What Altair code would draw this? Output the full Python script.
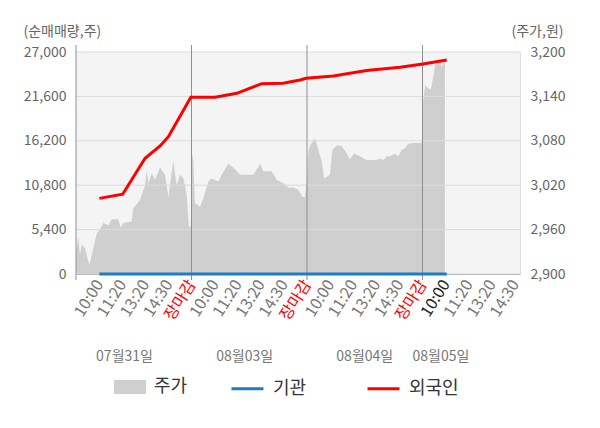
import json
import altair as alt
import pandas as pd

# ---------------- data ----------------
tick_labels = ["10:00", "11:20", "13:20", "14:30", "장마감"]
day_labels = ["07월31일", "08월03일", "08월04일", "08월05일"]
day_label_pos = [2.1, 7.3, 12.5, 15.8]
day_bounds = [0, 5, 10, 15]

left_ticks = [0, 5400, 10800, 16200, 21600, 27000]
right_ticks = [2900, 2960, 3020, 3080, 3140, 3200]

# stock price (주가), x in time-slot units (5 slots per trading day)
price_t = [0.00, 0.10, 0.17, 0.25, 0.39, 0.58, 0.75, 0.90, 1.04, 1.18,
           1.40, 1.55, 1.83, 1.94, 2.05, 2.41, 2.48, 2.77, 2.99, 3.06,
           3.13, 3.28, 3.42, 3.64, 3.85, 4.00, 4.21, 4.36, 4.50, 4.65,
           4.79, 4.89, 4.97,
           5.02, 5.08, 5.15, 5.37, 5.51, 5.73, 5.87, 6.16, 6.31, 6.59,
           6.81, 7.10, 7.68, 7.97, 8.11, 8.47, 8.69, 8.97, 9.19, 9.41,
           9.62, 9.81, 9.91, 9.98,
           10.03, 10.06, 10.13, 10.35, 10.49, 10.64, 10.74, 10.99, 11.10, 11.31,
           11.50, 11.72, 11.86, 12.03, 12.29, 12.58, 13.02, 13.16, 13.30, 13.45,
           13.59, 13.81, 13.95, 14.10, 14.24, 14.39, 14.60, 14.97,
           15.03, 15.11, 15.25, 15.36, 15.47, 15.54, 15.76, 15.83, 15.94, 15.97]
price_v = [2930, 2950, 2926, 2940, 2935, 2912, 2935, 2955, 2960, 2969,
           2966, 2974, 2974, 2963, 2969, 2971, 2989, 3000, 3020, 3040,
           3023, 3036, 3027, 3044, 3034, 3004, 3053, 3020, 3034, 3029,
           3007, 2964, 2964,
           3063, 3052, 2996, 2991, 3002, 3025, 3029, 3025, 3034, 3049,
           3044, 3034, 3034, 3049, 3039, 3039, 3027, 3023, 3017, 3017,
           3014, 3004, 3004, 3025,
           3050, 3065, 3074, 3083, 3068, 3052, 3029, 3034, 3068, 3074,
           3073, 3063, 3055, 3063, 3059, 3054, 3054, 3056, 3054, 3059,
           3059, 3063, 3059, 3068, 3070, 3076, 3077, 3077,
           3133, 3155, 3151, 3149, 3167, 3182, 3191, 3180, 3189, 3189]

# 외국인 cumulative net buying
foreign_t = [1.01, 2.02, 2.99, 3.64, 4.00, 4.97, 6.02, 6.96, 8.04, 8.97,
             9.70, 9.96, 11.14, 12.58, 14.03, 15.01, 16.05]
foreign_v = [9200, 9700, 14070, 15570, 16700, 21490, 21490, 21980, 23150, 23190,
             23600, 23800, 24080, 24740, 25150, 25540, 26030]

# 기관 cumulative net buying
inst_t = [1.01, 16.05]
inst_v = [0, 0]

# ---------------- tables ----------------
price_df = pd.DataFrame({"t": price_t, "v": price_v, "s": "주가"})
line_df = pd.concat([
    pd.DataFrame({"t": inst_t, "v": inst_v, "series": "기관"}),
    pd.DataFrame({"t": foreign_t, "v": foreign_v, "series": "외국인"}),
])
grid_df = pd.DataFrame({"v": left_ticks})
sep_df = pd.DataFrame({"t": day_bounds})
date_df = pd.DataFrame({"t": day_label_pos, "label": day_labels})

all_tick_labels = (tick_labels * 4)[:-1]
tick_values = list(range(1, len(all_tick_labels) + 1))
label_expr = json.dumps(all_tick_labels, ensure_ascii=False) + "[round(datum.value) - 1]"

FONT = "Noto Sans CJK KR"
xscale = alt.Scale(domain=[0, 19.22], nice=False, zero=False)
left_scale = alt.Scale(domain=[0, 27000], nice=False, zero=True)
right_scale = alt.Scale(domain=[2900, 3200], nice=False, zero=False)


def x_axis():
    return alt.Axis(
        values=tick_values, labelExpr=label_expr, labelAngle=-58,
        labelAlign="right", labelBaseline="middle", labelFontSize=16,
        labelColor={"condition": [
            {"test": "datum.value % 5 == 0", "value": "#ff0000"},
            {"test": "datum.value == 16", "value": "#222222"}],
            "value": "#777777"},
        labelPadding=7, labelOverlap=False,
        ticks=False, grid=False, domain=True, domainColor="#999999", title=None,
    )


def X():
    return alt.X("t:Q", scale=xscale, axis=x_axis())


left_axis = alt.Axis(
    orient="left", values=left_ticks, format=",d", title="(순매매량,주)",
    titleAngle=0, titleAlign="left", titleBaseline="middle", titleX=-53, titleY=-21,
    titleFontSize=14, titleFontWeight="normal", titleColor="#666666",
    labelFontSize=14, labelColor="#666666", labelPadding=10,
    ticks=False, domain=False, grid=False,
)
right_axis = alt.Axis(
    orient="right", values=right_ticks, format=",d", title="(주가,원)",
    titleAngle=0, titleAlign="right", titleBaseline="middle", titleX=43, titleY=-21,
    titleFontSize=14, titleFontWeight="normal", titleColor="#666666",
    labelFontSize=14, labelColor="#666666", labelPadding=10,
    ticks=False, domain=True, domainColor="#dddddd", grid=False,
)

area = alt.Chart(price_df).mark_area(interpolate="linear").encode(
    x=X(),
    y=alt.Y("v:Q", scale=right_scale, axis=right_axis),
    y2=alt.datum(2900),
    fill=alt.Fill("s:N", scale=alt.Scale(domain=["주가"], range=["#cfcfcf"]),
                  legend=alt.Legend(orient="none", legendX=38, legendY=319, title=None,
                                    symbolType="M-1,-0.44H1V0.44H-1Z", symbolSize=1024,
                                    symbolStrokeWidth=0, labelFontSize=18,
                                    labelColor="#333333", labelOffset=8, padding=0)),
)

grid = alt.Chart(grid_df).mark_rule(color="#dcdcdc", strokeWidth=1).encode(
    y=alt.Y("v:Q", scale=left_scale, axis=None),
)

seps = alt.Chart(sep_df).mark_rule(color="#8f8f8f", strokeWidth=1).encode(
    x=X(),
    y=alt.value(-7),
    y2=alt.value(228),
)

lines = alt.Chart(line_df).mark_line(strokeWidth=3).encode(
    x=X(),
    y=alt.Y("v:Q", scale=left_scale, axis=left_axis),
    stroke=alt.Stroke("series:N",
                      scale=alt.Scale(domain=["기관", "외국인"], range=["#1a7fc8", "#ff0000"]),
                      legend=alt.Legend(orient="none", legendX=154, legendY=319, title=None,
                                        direction="horizontal", symbolType="stroke",
                                        symbolSize=1024, symbolStrokeWidth=3,
                                        labelFontSize=18, labelColor="#333333",
                                        labelOffset=8, columnPadding=54, padding=0)),
)

dates = alt.Chart(date_df).mark_text(fontSize=14, color="#777777", font=FONT).encode(
    x=X(),
    y=alt.value(305),
    text="label:N",
)

chart = alt.layer(area, grid, seps, lines, dates).resolve_scale(
    y="independent"
).properties(
    width=444, height=222,
    padding={"left": 68, "top": 44, "right": 72, "bottom": 146},
    autosize="none",
).configure(font=FONT).configure_view(fill="#f4f4f4", stroke=None)

chart.save("out.html", embed_options={"renderer": "svg", "actions": False})
